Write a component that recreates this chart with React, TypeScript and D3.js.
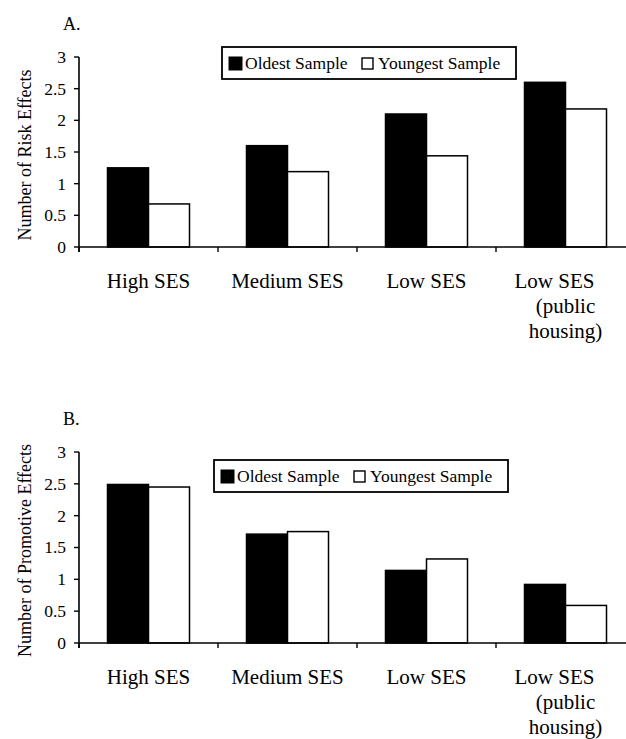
import React from 'react';
import * as d3 from 'd3';

// category labels (the last one wraps onto three lines)
const categories = ['High SES', 'Medium SES', 'Low SES', 'Low SES (public housing)'];
const categoryLines = [['High SES'], ['Medium SES'], ['Low SES'], ['Low SES', '(public', 'housing)']];
const series = ['Oldest Sample', 'Youngest Sample'];

// panel A: number of risk effects
const riskOldest = [1.25, 1.6, 2.1, 2.6];
const riskYoungest = [0.68, 1.19, 1.44, 2.18];

// panel B: number of promotive effects
const promoOldest = [2.49, 1.71, 1.14, 0.92];
const promoYoungest = [2.45, 1.75, 1.32, 0.59];

const yTicks = [0, 0.5, 1, 1.5, 2, 2.5, 3];
const yTickLabels = ['0', '0.5', '1', '1.5', '2', '2.5', '3'];

const W = 626;
const H = 739;
const FONT = 'Liberation Serif, Times New Roman, DejaVu Serif, serif';

type PanelProps = {
  title: string;
  yLabel: string;
  oldest: number[];
  youngest: number[];
  top: number;
  bottom: number;
  legend: { x: number; y: number };
};

function Panel({ title, yLabel, oldest, youngest, top, bottom, legend }: PanelProps) {
  const left = 79;
  const x = d3.scaleBand<string>().domain(categories).range([left, left + 556]).padding(0);
  const xs = d3.scaleBand<string>().domain(series).range([0, x.bandwidth()])
    .paddingInner(0).paddingOuter(0.695);
  const y = d3.scaleLinear().domain([0, 3]).range([bottom, top]);
  const values = [oldest, youngest];
  const txt = { fontFamily: FONT };

  return (
    <g style={txt}>
      <text x={63} y={top - 27} fontSize={18}>{title}</text>

      {/* y axis label */}
      <text
        transform={`translate(31, ${(top + bottom) / 2 + 3}) rotate(-90)`}
        textAnchor='middle' fontSize={18}>
        {yLabel}
      </text>

      {/* bars */}
      {categories.map((c, i) => (
        <g key={c}>
          {series.map((s, j) => (
            <rect key={s}
              x={(x(c) as number) + (xs(s) as number)}
              y={y(values[j][i])}
              width={xs.bandwidth()}
              height={y(0) - y(values[j][i])}
              fill={j === 0 ? '#000' : '#fff'}
              stroke='#000' strokeWidth={1.5} />
          ))}
        </g>
      ))}

      {/* y axis */}
      <line x1={left} x2={left} y1={top} y2={bottom + 5} stroke='#000' strokeWidth={1.6} />
      {yTicks.map((t, i) => (
        <g key={t}>
          <line x1={left - 5} x2={left} y1={y(t)} y2={y(t)} stroke='#000' strokeWidth={1.4} />
          <text x={66} y={y(t)} dy='0.34em' textAnchor='end' fontSize={17.5}>
            {yTickLabels[i]}
          </text>
        </g>
      ))}

      {/* x axis */}
      <line x1={left} x2={left + 556} y1={bottom} y2={bottom} stroke='#000' strokeWidth={1.6} />
      {categories.map(c => (
        <line key={c} x1={x(c) as number} x2={x(c) as number} y1={bottom} y2={bottom + 5}
          stroke='#000' strokeWidth={1.4} />
      ))}
      {categories.map((c, i) => (
        <text key={c} x={(x(c) as number) + x.bandwidth() / 2} y={bottom + 41}
          textAnchor='middle' fontSize={21}>
          {categoryLines[i].map((ln, k) => (
            <tspan key={k} x={(x(c) as number) + x.bandwidth() / 2 - (k === 0 && categoryLines[i].length > 1 ? 11 : 0)}
              dy={k === 0 ? 0 : 25}>{ln}</tspan>
          ))}
        </text>
      ))}

      {/* legend */}
      <g transform={`translate(${legend.x}, ${legend.y})`}>
        <rect x={0} y={0} width={294} height={32} fill='#fff' stroke='#000' strokeWidth={1.8} />
        <rect x={7} y={10} width={13} height={13} fill='#000' stroke='#000' strokeWidth={1} />
        <text x={23} y={22} fontSize={17.5}>{series[0]}</text>
        <rect x={140} y={11} width={11} height={11} fill='#fff' stroke='#000' strokeWidth={1.4} />
        <text x={156} y={22} fontSize={17.5}>{series[1]}</text>
      </g>
    </g>
  );
}

export default function App() {
  return (
    <svg width={W} height={H} style={{ position: 'absolute', left: 0, top: 0, background: '#fff' }}>
      <rect x={0} y={0} width={W} height={H} fill='#fff' />
      <Panel title='A.' yLabel='Number of Risk Effects'
        oldest={riskOldest} youngest={riskYoungest}
        top={57} bottom={247} legend={{ x: 222, y: 47 }} />
      <Panel title='B.' yLabel='Number of Promotive Effects'
        oldest={promoOldest} youngest={promoYoungest}
        top={452} bottom={643} legend={{ x: 214, y: 460 }} />
    </svg>
  );
}
